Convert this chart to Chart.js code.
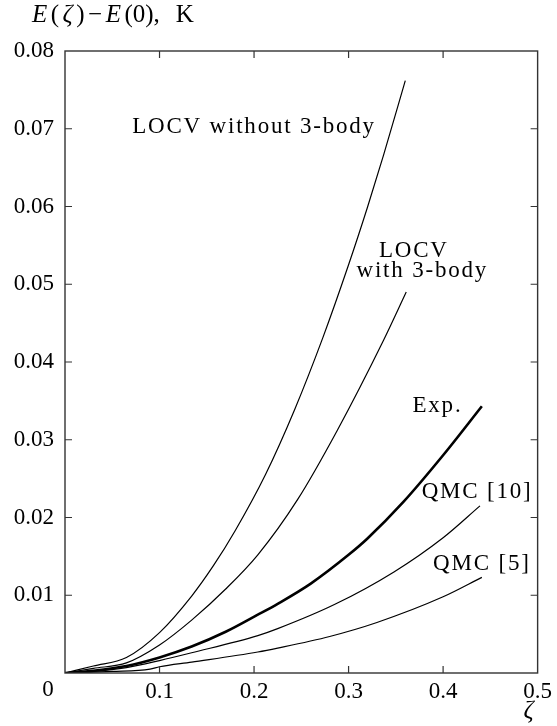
<!DOCTYPE html>
<html>
<head>
<meta charset="utf-8">
<script src="https://cdn.jsdelivr.net/npm/chart.js@4"></script>
<style>
  html, body { margin: 0; padding: 0; background: #fff; }
  canvas { display: block; }
</style>
</head>
<body>
<canvas id="chart" width="557" height="726"></canvas>
<script>
// curves: zeta values and E(zeta)-E(0) in K
const noThreeX = [0, 0.03, 0.065, 0.1, 0.134, 0.157, 0.18, 0.212, 0.243, 0.273, 0.30, 0.32, 0.337, 0.36];
const noThreeY = [0, 0.0009, 0.0020, 0.0052, 0.0099, 0.0138, 0.0183, 0.0255, 0.0339, 0.0432, 0.0525, 0.0599, 0.0666, 0.0762];

const withThreeX = [0, 0.03, 0.065, 0.1, 0.134, 0.17, 0.204, 0.246, 0.288, 0.337, 0.361];
const withThreeY = [0, 0.0006, 0.0013, 0.0036, 0.0068, 0.0108, 0.0152, 0.0223, 0.0312, 0.0428, 0.0490];

const expX = [0, 0.03, 0.065, 0.1, 0.134, 0.17, 0.204, 0.225, 0.26, 0.30, 0.32, 0.358, 0.40, 0.441];
const expY = [0, 0.0003, 0.0009, 0.0020, 0.0034, 0.0053, 0.0075, 0.0089, 0.0115, 0.0152, 0.0173, 0.0220, 0.0280, 0.0343];

const qmc10X = [0, 0.03, 0.065, 0.1, 0.134, 0.204, 0.225, 0.285, 0.348, 0.40, 0.439];
const qmc10Y = [0, 0.0002, 0.0007, 0.0016, 0.0026, 0.0048, 0.0057, 0.0088, 0.0130, 0.0174, 0.0215];

const qmc5X = [0, 0.05, 0.09, 0.1, 0.134, 0.204, 0.225, 0.28, 0.33, 0.40, 0.441];
const qmc5Y = [0, 0.0002, 0.0005, 0.0008, 0.0014, 0.0027, 0.0032, 0.0047, 0.0065, 0.0098, 0.0123];

// tick values
const xTicks = [0, 0.1, 0.2, 0.3, 0.4, 0.5];
const yTicks = [0, 0.01, 0.02, 0.03, 0.04, 0.05, 0.06, 0.07, 0.08];

// curve labels, anchored in data units (centre x, baseline y)
const curveLabels = [
  { text: "LOCV without 3-body", x: 0.200, y: 0.0695 },
  { text: "LOCV", x: 0.369, y: 0.0535 },
  { text: "with 3-body", x: 0.378, y: 0.0509 },
  { text: "Exp.", x: 0.394, y: 0.0336 },
  { text: "QMC [10]", x: 0.436, y: 0.0225 },
  { text: "QMC [5]", x: 0.441, y: 0.01325 }
];

const FONT = "\"Liberation Serif\", \"Times New Roman\", \"DejaVu Serif\", serif";
const toPoints = (xs, ys) => xs.map((x, i) => ({ x: x, y: ys[i] }));

function curve(xs, ys, width) {
  return {
    data: toPoints(xs, ys),
    borderColor: "#000",
    borderWidth: width,
    pointRadius: 0,
    showLine: true,
    fill: false,
    cubicInterpolationMode: "monotone"
  };
}

//frame, inward ticks and all the text that is not a tick label
const decorations = {
  id: "decorations",
  afterDatasetsDraw(chart) {
    const ctx = chart.ctx;
    const a = chart.chartArea;
    const sx = chart.scales.x;
    const sy = chart.scales.y;
    ctx.save();
    ctx.strokeStyle = "#333";
    ctx.lineWidth = 1.4;
    ctx.strokeRect(a.left, a.top, a.right - a.left, a.bottom - a.top);
    ctx.lineWidth = 1.2;
    ctx.beginPath();
    xTicks.slice(1, -1).forEach((v) => {
      const px = sx.getPixelForValue(v);
      ctx.moveTo(px, a.bottom); ctx.lineTo(px, a.bottom - 7);
      ctx.moveTo(px, a.top); ctx.lineTo(px, a.top + 7);
    });
    yTicks.slice(1, -1).forEach((v) => {
      const py = sy.getPixelForValue(v);
      ctx.moveTo(a.left, py); ctx.lineTo(a.left + 7, py);
      ctx.moveTo(a.right, py); ctx.lineTo(a.right - 7, py);
    });
    ctx.stroke();

    ctx.fillStyle = "#000";
    ctx.textBaseline = "alphabetic";
    ctx.textAlign = "center";
    ctx.font = "23px " + FONT;
    ctx.letterSpacing = "1.8px";
    curveLabels.forEach((l) => {
      ctx.fillText(l.text, sx.getPixelForValue(l.x), sy.getPixelForValue(l.y));
    });

    // shared origin label
    ctx.letterSpacing = "0px";
    ctx.textBaseline = "middle";
    ctx.fillText("0", a.left - 17, a.bottom + 17);

    // axis titles
    ctx.textBaseline = "alphabetic";
    ctx.font = "italic 25px " + FONT;
    ctx.fillText("\u03B6", a.right - 9, 718);

    const runs = [
      ["E", true], ["(", false], ["\u03B6", true], [")", false],
      ["\u2212", false], ["E", true], ["(0),", false], ["  K", false]
    ];
    ctx.textAlign = "left";
    let x = 32;
    runs.forEach(([t, it]) => {
      ctx.font = (it ? "italic " : "") + "25px " + FONT;
      ctx.fillText(t, x, 22);
      x += ctx.measureText(t).width + 3.5;
    });
    ctx.restore();
  }
};

new Chart(document.getElementById("chart").getContext("2d"), {
  type: "scatter",
  data: {
    datasets: [
      curve(noThreeX, noThreeY, 1.2),
      curve(withThreeX, withThreeY, 1.2),
      curve(expX, expY, 2.6),
      curve(qmc10X, qmc10Y, 1.2),
      curve(qmc5X, qmc5Y, 1.2)
    ]
  },
  options: {
    responsive: false,
    animation: false,
    devicePixelRatio: 1,
    layout: { padding: { top: 51, right: 15, left: 0, bottom: 0 } },
    plugins: { legend: { display: false }, tooltip: { enabled: false } },
    scales: {
      x: {
        type: "linear",
        min: 0,
        max: 0.5,
        afterBuildTicks: (s) => { s.ticks = xTicks.map((v) => ({ value: v })); },
        afterFit: (s) => { s.height = 53; },
        grid: { display: false, drawTicks: false },
        border: { display: false },
        ticks: {
          padding: 5,
          color: "#000",
          font: { family: FONT, size: 23 },
          maxRotation: 0,
          callback: (v) => (v === 0 ? "" : v.toFixed(1))
        }
      },
      y: {
        type: "linear",
        min: 0,
        max: 0.08,
        afterBuildTicks: (s) => { s.ticks = yTicks.map((v) => ({ value: v })); },
        afterFit: (s) => { s.width = 65; },
        grid: { display: false, drawTicks: false },
        border: { display: false },
        ticks: {
          padding: 11,
          color: "#000",
          font: { family: FONT, size: 23 },
          callback: (v) => (v === 0 ? "" : v.toFixed(2))
        }
      }
    }
  },
  plugins: [decorations]
});
</script>
</body>
</html>
